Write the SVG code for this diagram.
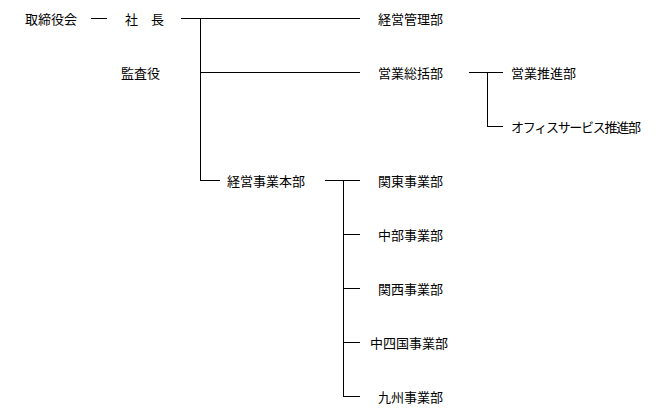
<svg xmlns="http://www.w3.org/2000/svg" width="667" height="415" viewBox="0 0 667 415">
<style>
text{font-family:"Noto Sans CJK JP","Noto Sans",sans-serif;font-size:13px;fill:#000;dominant-baseline:central}
line{stroke:#000;stroke-width:1}
</style>
<rect width="667" height="415" fill="#fff"/>
<g id="connectors">
<line x1="91" y1="18.5" x2="107" y2="18.5"/>
<line x1="181" y1="18.5" x2="360" y2="18.5"/>
<line x1="200.5" y1="18" x2="200.5" y2="180"/>
<line x1="200" y1="72.5" x2="360" y2="72.5"/>
<line x1="200" y1="180.5" x2="220" y2="180.5"/>
<line x1="325" y1="180.5" x2="360" y2="180.5"/>
<line x1="343.5" y1="180" x2="343.5" y2="396"/>
<line x1="343" y1="234.5" x2="360" y2="234.5"/>
<line x1="343" y1="288.5" x2="360" y2="288.5"/>
<line x1="343" y1="342.5" x2="360" y2="342.5"/>
<line x1="343" y1="396.5" x2="360" y2="396.5"/>
<line x1="469" y1="72.5" x2="503" y2="72.5"/>
<line x1="487.5" y1="72" x2="487.5" y2="126"/>
<line x1="487" y1="126.5" x2="503" y2="126.5"/>
</g>
<g id="n_board"><text x="25" y="18">取締役会</text></g>
<g id="n_president"><text x="125" y="18">社</text><text x="151" y="18">長</text></g>
<g id="n_auditor"><text x="121" y="72">監査役</text></g>
<g id="n_mgmt"><text x="378" y="18">経営管理部</text></g>
<g id="n_sales"><text x="378" y="72">営業総括部</text></g>
<g id="n_salespromo"><text x="511" y="72">営業推進部</text></g>
<g id="n_office"><text x="511" y="126" textLength="130">オフィスサービス推進部</text></g>
<g id="n_hq"><text x="227" y="180">経営事業本部</text></g>
<g id="n_kanto"><text x="378" y="180">関東事業部</text></g>
<g id="n_chubu"><text x="378" y="234">中部事業部</text></g>
<g id="n_kansai"><text x="378" y="288">関西事業部</text></g>
<g id="n_chushikoku"><text x="370" y="342">中四国事業部</text></g>
<g id="n_kyushu"><text x="378" y="396">九州事業部</text></g>
</svg>
